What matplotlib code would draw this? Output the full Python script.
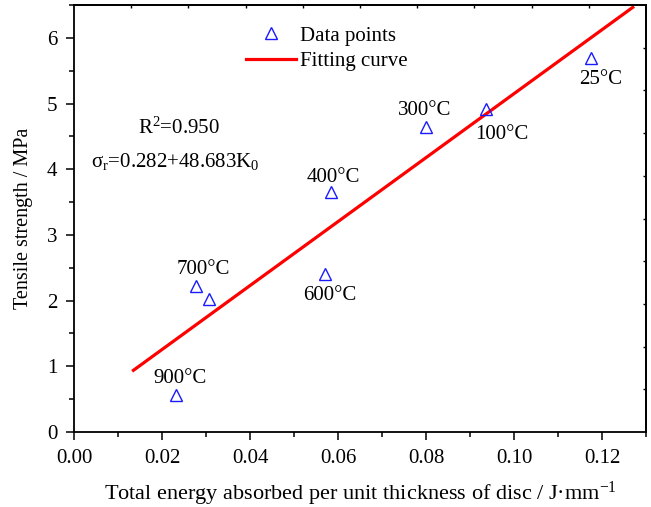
import numpy as np
import matplotlib
matplotlib.use("Agg")
import matplotlib.pyplot as plt
from matplotlib.ticker import MultipleLocator, FormatStrFormatter, FixedLocator, NullFormatter

plt.rcParams['font.family'] = ['Liberation Serif', 'DejaVu Serif']
plt.rcParams['mathtext.fontset'] = 'custom'
plt.rcParams['mathtext.rm'] = 'Liberation Serif'
plt.rcParams['mathtext.it'] = 'Liberation Serif:italic'

# Measured tensile strength vs absorbed energy per unit disc thickness
energy = [0.0231, 0.0278, 0.0306, 0.0570, 0.0584, 0.0800, 0.0936, 0.1174]
strength = [0.56, 2.23, 2.02, 2.40, 3.65, 4.65, 4.91, 5.70]

# Temperature labels and their anchor positions (data units)
temp_labels = ["900°C", "700°C", "600°C", "400°C", "300°C", "100°C", "25°C"]
label_x = [0.0241, 0.0295, 0.0582, 0.0589, 0.0797, 0.0972, 0.1197]
label_y = [0.82, 2.48, 2.085, 3.87, 4.89, 4.53, 5.37]

# Linear fit: sigma_r = a + b * K0
fit_a = 0.282
fit_b = 48.683
fit_r2 = 0.950
fit_range = [0.0135, 0.127]

fig = plt.figure(figsize=(6.51, 5.07), dpi=100)
ax = fig.add_axes([0.1137, 0.1479, 0.8786, 0.8422])

fit_x = np.array(fit_range)
fit_y = fit_a + fit_b * fit_x
ax.plot(energy, strength, linestyle='none', marker='^', markersize=9,
        markerfacecolor='none', markeredgecolor='#1a1aff', markeredgewidth=1.0,
        label='Data points', zorder=3)
ax.plot(fit_x, fit_y, color='#ff0000', linewidth=2.3, label='Fitting curve', zorder=2)

for t, x, y in zip(temp_labels, label_x, label_y):
    ax.text(x, y, t, fontsize=15, ha='center', va='center')

ax.text(0.0239, 4.63, r"R$^{\mathrm{2}}$=" + f"{fit_r2:.3f}", fontsize=15,
        ha='center', va='center')
ax.text(0.0230, 4.12, r"σ$_{\mathrm{r}}$=" + f"{fit_a:.3f}+{fit_b:.3f}" + r"K$_{\mathrm{0}}$",
        fontsize=15, ha='center', va='center')

ax.set_xlim(0, 0.13)
ax.set_ylim(0, 6.5)
ax.xaxis.set_major_locator(MultipleLocator(0.02))
ax.xaxis.set_minor_locator(MultipleLocator(0.01))
ax.xaxis.set_major_formatter(FormatStrFormatter('%.2f'))
ax.yaxis.set_major_locator(MultipleLocator(1))
ax.yaxis.set_minor_locator(MultipleLocator(0.5))

ax.tick_params(axis='both', which='major', direction='out', length=6, width=1.1,
               labelsize=15, pad=6)
ax.tick_params(axis='both', which='minor', direction='out', length=3.5, width=1.1)

for sp in ax.spines.values():
    sp.set_linewidth(1.3)

# small inward ticks along the top and right frame
top = ax.secondary_xaxis('top')
top.xaxis.set_major_locator(FixedLocator([0.013 * k for k in range(1, 10)]))
top.xaxis.set_major_formatter(NullFormatter())
top.tick_params(direction='in', length=2, width=1.0)
right = ax.secondary_yaxis('right')
right.yaxis.set_major_locator(FixedLocator([0.65 * k for k in range(1, 10)]))
right.yaxis.set_major_formatter(NullFormatter())
right.tick_params(direction='in', length=2.5, width=1.0)
top.spines['top'].set_linewidth(1.3)
right.spines['right'].set_linewidth(1.3)

ax.set_xlabel(r"Total energy absorbed per unit thickness of disc / J·mm$^{\mathrm{-1}}$",
              fontsize=16, labelpad=9)
ax.set_ylabel("Tensile strength / MPa", fontsize=14.5, labelpad=10)

leg = ax.legend(loc='upper left', bbox_to_anchor=(0.272, 0.99), frameon=False,
                fontsize=15, handlelength=2.4, handletextpad=0.2, labelspacing=0.3,
                borderpad=0.3)

fig.savefig("out.png", dpi=100)
